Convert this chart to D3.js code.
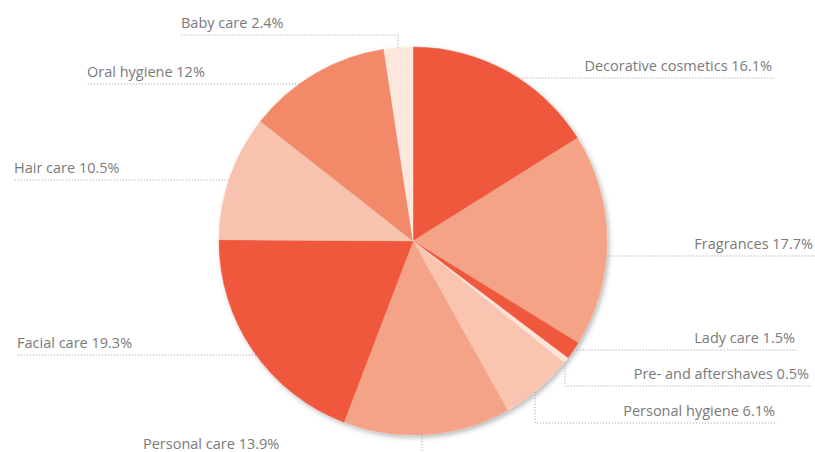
<!DOCTYPE html>
<html>
<head>
<meta charset="utf-8">
<script src="https://cdn.jsdelivr.net/npm/d3@7"></script>
<style>
  html, body { margin: 0; padding: 0; background: #ffffff; }
  svg { display: block; }
</style>
</head>
<body>
<script>
// Market shares of cosmetics & toiletries segments, clockwise from 12 o'clock
const categories = [
  "Decorative cosmetics", "Fragrances", "Lady care", "Pre- and aftershaves",
  "Personal hygiene", "Personal care", "Facial care", "Hair care",
  "Oral hygiene", "Baby care"
];
const shares = [16.1, 17.7, 1.5, 0.5, 6.1, 13.9, 19.3, 10.5, 12, 2.4];
const shareLabels = ["16.1%", "17.7%", "1.5%", "0.5%", "6.1%", "13.9%", "19.3%", "10.5%", "12%", "2.4%"];
const sliceColors = [
  "#ef583d", "#f5a386", "#ef583d", "#fce4d9", "#f9c5b1",
  "#f5a386", "#ef583d", "#f8c3ae", "#f28a6b", "#fde8de"
];

// Label placement: side of the pie, outer end of the leader, leader height,
// and (for elbowed leaders) the x where the leader leaves the pie vertically.
const labelLayout = [
  { side: "right", x: 774, y: 78 },
  { side: "right", x: 815, y: 256 },
  { side: "right", x: 797, y: 350 },
  { side: "right", x: 811, y: 386, elbowX: 565 },
  { side: "right", x: 777, y: 423, elbowX: 535 },
  { side: "left",  x: 142, y: 456, elbowX: 422 },
  { side: "left",  x: 16,  y: 355 },
  { side: "left",  x: 13,  y: 180 },
  { side: "left",  x: 86,  y: 84 },
  { side: "left",  x: 180, y: 35, elbowX: 398 }
];

const width = 815, height = 452;
const cx = 413, cy = 241, radius = 194;

const svg = d3.select("body").append("svg")
  .attr("width", width)
  .attr("height", height);

const defs = svg.append("defs");
const shadow = defs.append("filter")
  .attr("id", "pieShadow")
  .attr("x", "-10%").attr("y", "-10%")
  .attr("width", "120%").attr("height", "120%");
shadow.append("feDropShadow")
  .attr("dx", 2).attr("dy", 2.5)
  .attr("stdDeviation", 2.5)
  .attr("flood-color", "#000")
  .attr("flood-opacity", 0.28);

const pie = d3.pie().sort(null).value(d => d);
const arcs = pie(shares);
const arc = d3.arc().innerRadius(0).outerRadius(radius);

const g = svg.append("g")
  .attr("transform", `translate(${cx},${cy})`)
  .attr("filter", "url(#pieShadow)");

g.selectAll("path.slice")
  .data(arcs)
  .join("path")
  .attr("class", "slice")
  .attr("d", arc)
  .attr("fill", (d, i) => sliceColors[i])
  .attr("stroke", (d, i) => sliceColors[i])
  .attr("stroke-width", 0.4);

// Leader lines: start on the pie rim, run horizontally to the label
function leaderPoints(d, i) {
  const L = labelLayout[i];
  const dir = L.side === "right" ? 1 : -1;
  if (L.elbowX !== undefined) {
    const dx = L.elbowX - cx;
    const dy = Math.sqrt(Math.max(0, radius * radius - dx * dx));
    const mid = (d.startAngle + d.endAngle) / 2;
    const rimY = cy + (Math.cos(mid) < 0 ? dy : -dy);
    return [[L.elbowX, rimY], [L.elbowX, L.y], [L.x, L.y]];
  }
  const dy = L.y - cy;
  const rimX = cx + dir * Math.sqrt(Math.max(0, radius * radius - dy * dy));
  return [[rimX, L.y], [L.x, L.y]];
}

const line = d3.line();
svg.append("g")
  .selectAll("path.leader")
  .data(arcs)
  .join("path")
  .attr("class", "leader")
  .attr("d", (d, i) => line(leaderPoints(d, i)))
  .attr("fill", "none")
  .attr("stroke", "#a9a9a9")
  .attr("stroke-width", 1)
  .attr("stroke-dasharray", "1.2,1.8");

svg.append("g")
  .selectAll("text.label")
  .data(arcs)
  .join("text")
  .attr("class", "label")
  .attr("x", (d, i) => labelLayout[i].side === "right" ? labelLayout[i].x - 2 : labelLayout[i].x + 1)
  .attr("y", (d, i) => labelLayout[i].y - 7)
  .attr("text-anchor", (d, i) => labelLayout[i].side === "right" ? "end" : "start")
  .attr("font-family", "'Open Sans', 'Noto Sans', sans-serif")
  .attr("font-size", 14.5)
  .attr("fill", "#7a7a7a")
  .text((d, i) => `${categories[i]} ${shareLabels[i]}`);
</script>
</body>
</html>
